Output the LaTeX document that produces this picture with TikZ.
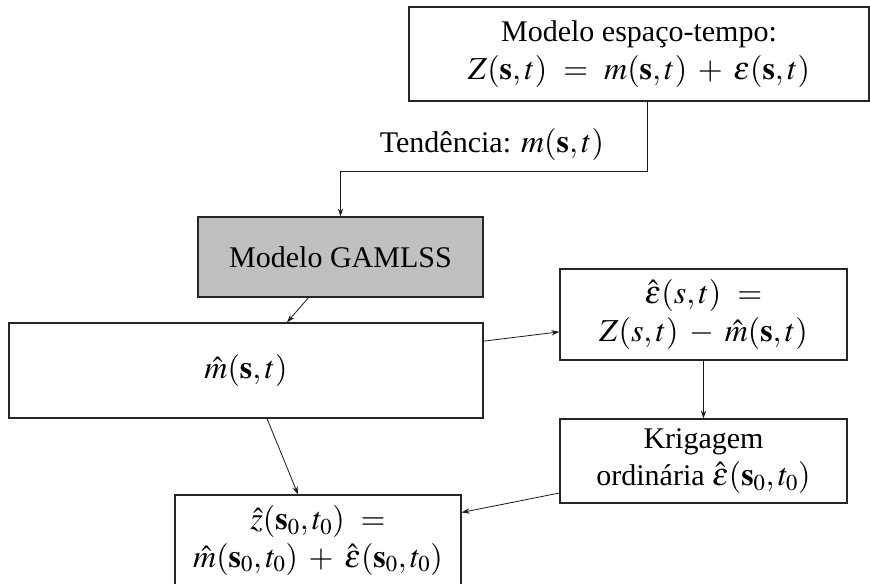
\documentclass[tikz,border=0pt]{standalone}
\usepackage{mathptmx}
\usepackage{fontspec}
\setmainfont{Liberation Serif}
\usetikzlibrary{arrows.meta}
\DeclareMathSizes{22.5}{24}{17}{12}
\definecolor{boxgray}{RGB}{192,192,192}
\newcommand{\boxfont}{\fontsize{22.5}{28}\selectfont
  \thickmuskip=9mu plus 2mu\medmuskip=6mu plus 2mu}
\tikzset{
  box/.style={draw=black!85, line width=0.9pt, inner sep=0pt, align=center,
    font=\boxfont},
  arr/.style={draw=black!90, line width=0.6pt, -{Stealth[length=6pt,width=4pt]}},
  plain/.style={font=\boxfont, inner sep=0pt}
}
\begin{document}
\begin{tikzpicture}[x=0.75pt,y=-0.75pt]
\useasboundingbox (0,0) rectangle (870,584);

% model boxes
\node[box, minimum width=345pt, minimum height=70.5pt] (top) at (639,54)
  {Modelo espaço-tempo:\\ $Z(\mathbf{s},t) = m(\mathbf{s},t) + \varepsilon(\mathbf{s},t)$};
\node[plain] (trend) at (492,145) {Tendência: $m(\mathbf{s},t)$};
\node[box, fill=boxgray, minimum width=213.75pt, minimum height=60pt] (gam) at (340.5,257)
  {Modelo GAMLSS};
\node[box, minimum width=355.5pt, minimum height=71.25pt] (mhat) at (246,370.5)
  {$\hat{m}(\mathbf{s},t)$};
\node[box, minimum width=215.25pt, minimum height=68.25pt] (eps) at (703.5,314.5)
  {$\hat{\varepsilon}(s,t) =$\\ $Z(s,t) - \hat{m}(\mathbf{s},t)$};
\node[box, minimum width=215.25pt, minimum height=63pt] (krig) at (703.5,461)
  {Krigagem\\ ordinária $\hat{\varepsilon}(\mathbf{s}_0,t_0)$};
\node[box, minimum width=214.5pt, minimum height=68.25pt] (zhat) at (318,540.5)
  {$\hat{z}(\mathbf{s}_0,t_0) =$\\ $\hat{m}(\mathbf{s}_0,t_0) + \hat{\varepsilon}(\mathbf{s}_0,t_0)$};

% connectors
\draw[arr] ([xshift=6pt]top.south) -- ++(0,70) -| (gam.north);
\draw[arr] ([xshift=-24pt]gam.south) -- ([xshift=30.75pt]mhat.north);
\draw[arr] ([yshift=22pt]mhat.east) -- ([yshift=-13pt]eps.west);
\draw[arr] (eps.south) -- (krig.north);
\draw[arr] ([yshift=-24pt]krig.west) -- ([yshift=21pt]zhat.east);
\draw[arr] ([xshift=15.75pt]mhat.south) -- ([xshift=-15pt]zhat.north);
\end{tikzpicture}
\end{document}
